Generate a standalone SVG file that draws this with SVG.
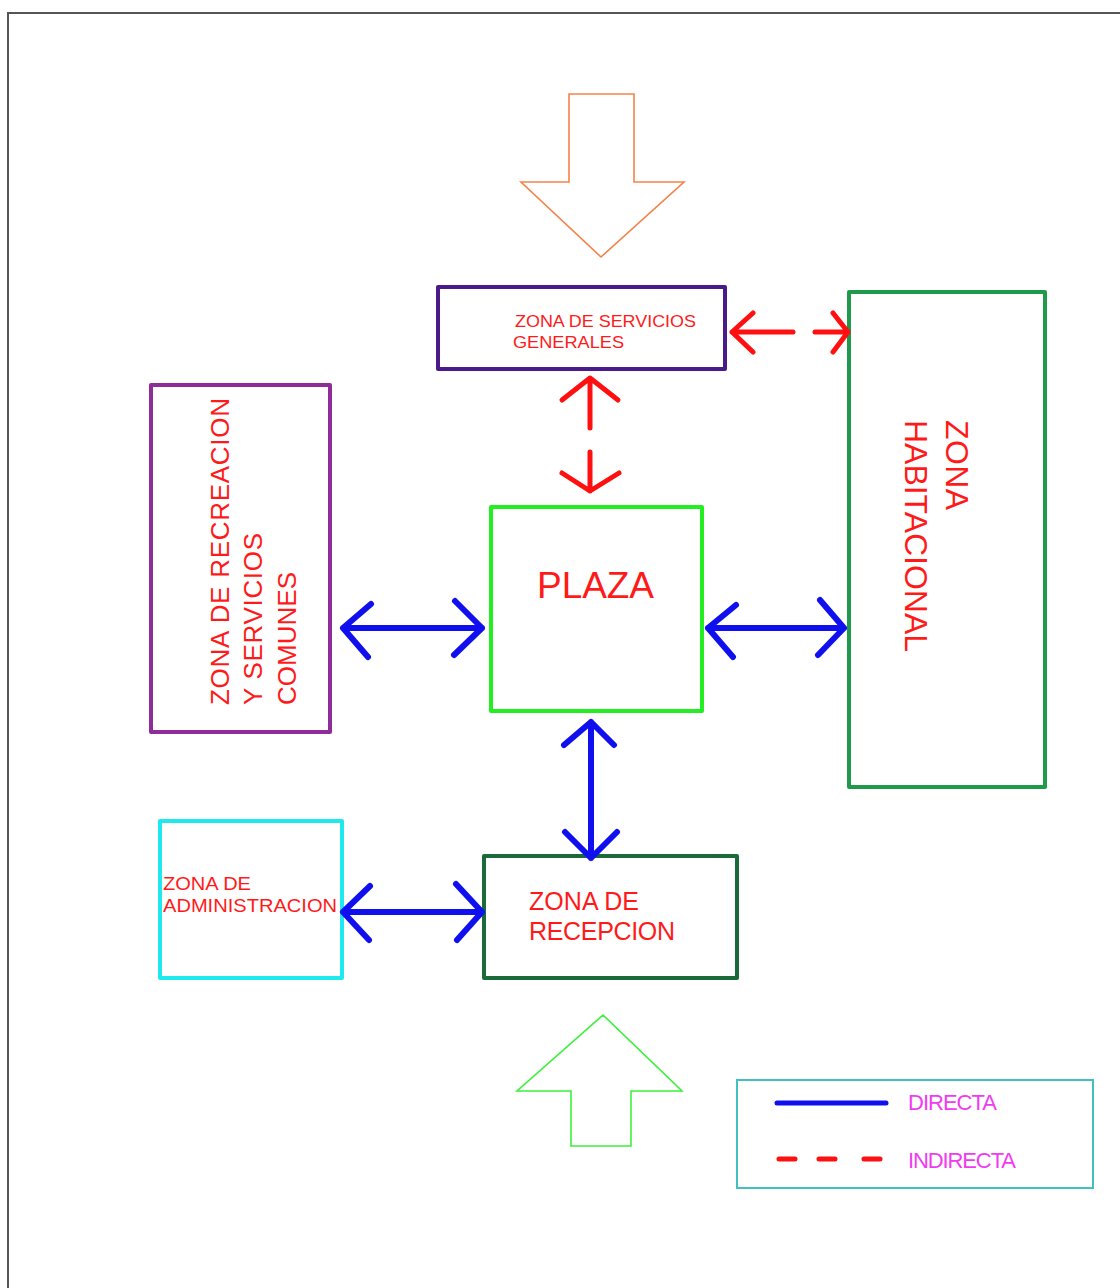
<svg xmlns="http://www.w3.org/2000/svg" width="1120" height="1288" viewBox="0 0 1120 1288">
<style>
text{font-family:"Liberation Sans",Arial,sans-serif;fill:#ff1a1a}
.box{fill:none;stroke-width:4;stroke-linejoin:round}
.blue{stroke:#1010ee;stroke-width:6;fill:none;stroke-linecap:round;stroke-linejoin:round}
.red{stroke:#ff1010;stroke-width:5;fill:none;stroke-linecap:round;stroke-linejoin:round}
.leg{fill:#f03cf0}
</style>
<rect x="0" y="0" width="1120" height="1288" fill="#ffffff"/>
<path d="M8,1290 V13 H1122" fill="none" stroke="#555" stroke-width="2"/>

<g id="entrada-superior">
<polygon points="569,94 634,94 634,182 684,182 601,257 521,182 569,182" fill="none" stroke="#f4834a" stroke-width="1.6"/>
</g>
<g id="entrada-inferior">
<polygon points="603,1015 682,1091 631,1091 631,1146 571,1146 571,1091 517,1091" fill="none" stroke="#3cf03c" stroke-width="1.6"/>
</g>

<g id="servicios-generales">
<rect class="box" x="438" y="287" width="287" height="82" stroke="#4a1a88"/>
<text x="515" y="327" font-size="17" textLength="181" lengthAdjust="spacingAndGlyphs">ZONA DE SERVICIOS</text>
<text x="513" y="348" font-size="17" textLength="111" lengthAdjust="spacingAndGlyphs">GENERALES</text>
</g>

<g id="recreacion">
<rect class="box" x="151" y="385" width="179" height="347" stroke="#8e2d9a"/>
<text transform="translate(229,705) rotate(-90)" font-size="26" textLength="307">ZONA DE RECREACION</text>
<text transform="translate(262,705) rotate(-90)" font-size="26" textLength="172">Y SERVICIOS</text>
<text transform="translate(296,705) rotate(-90)" font-size="26" textLength="133">COMUNES</text>
</g>

<g id="habitacional">
<rect class="box" x="849" y="292" width="196" height="495" stroke="#1e9a4a"/>
<text transform="translate(946,420) rotate(90)" font-size="32" textLength="90">ZONA</text>
<text transform="translate(905,420) rotate(90)" font-size="32" textLength="232">HABITACIONAL</text>
</g>

<g id="plaza">
<rect class="box" x="491" y="507" width="211" height="204" stroke="#22ee22"/>
<text x="537" y="598" font-size="37" textLength="117">PLAZA</text>
</g>

<g id="administracion">
<rect class="box" x="160" y="821" width="182" height="157" stroke="#1ee8f0"/>
<text x="163" y="890" font-size="18.5" textLength="88" lengthAdjust="spacingAndGlyphs">ZONA DE</text>
<text x="163" y="912" font-size="18.5" textLength="174" lengthAdjust="spacingAndGlyphs">ADMINISTRACION</text>
</g>

<g id="recepcion">
<rect class="box" x="484" y="856" width="253" height="122" stroke="#1b6b3a"/>
<text x="529" y="910" font-size="25" textLength="110">ZONA DE</text>
<text x="529" y="940" font-size="25" textLength="146">RECEPCION</text>
</g>

<g id="leyenda">
<rect x="737" y="1080" width="356" height="108" fill="none" stroke="#40c0c0" stroke-width="2"/>
<line x1="777" y1="1103" x2="886" y2="1103" stroke="#1010ee" stroke-width="5" stroke-linecap="round"/>
<path d="M779,1159 H795 M819,1159 H835 M864,1159 H880" stroke="#ff1010" stroke-width="5" stroke-linecap="round" fill="none"/>
<text class="leg" x="908" y="1110" font-size="22" textLength="89">DIRECTA</text>
<text class="leg" x="908" y="1168" font-size="22" textLength="108">INDIRECTA</text>
</g>

<g id="conectores">
<path class="red" d="M732,332 H793 M815,332 H848 M753,313 L732,332 L753,352 M833,313 L848,332 L833,352"/>
<path class="red" d="M590,378 V428 M590,452 V491 M562,400 L590,378 L618,400 M562,473 L590,491 L619,473"/>
<path class="blue" d="M343,628 H482 M371,604 L343,628 L368,657 M455,601 L482,628 L454,655"/>
<path class="blue" d="M708,628 H844 M736,605 L708,628 L733,657 M820,600 L844,628 L818,655"/>
<path class="blue" d="M591,722 V858 M564,745 L591,722 L614,745 M565,832 L591,858 L617,832"/>
<path class="blue" d="M343,912 H482 M370,886 L343,912 L369,940 M456,884 L482,912 L457,940"/>
</g>
</svg>
